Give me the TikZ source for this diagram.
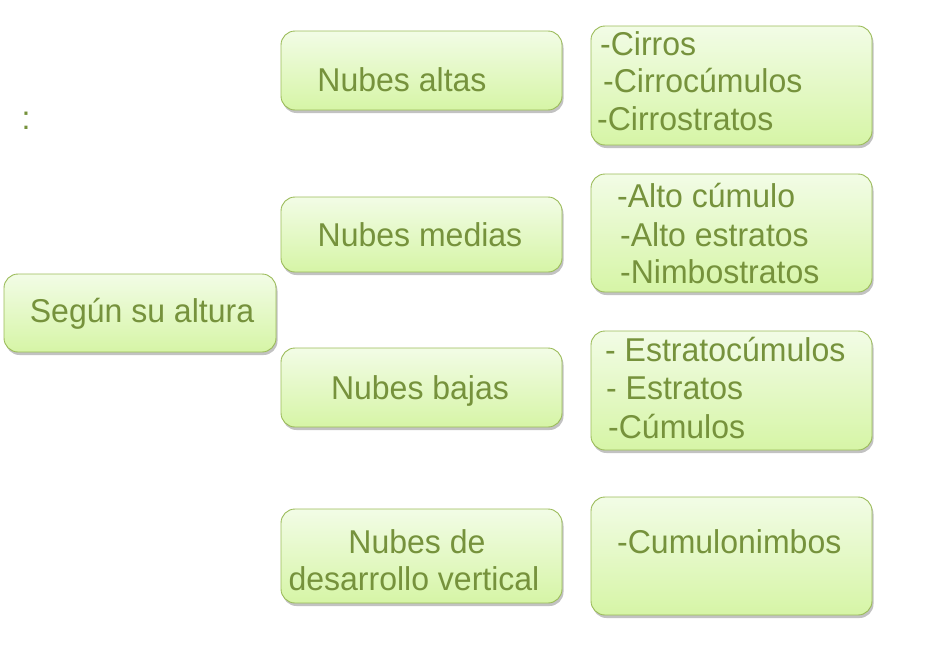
\documentclass[tikz,border=0pt]{standalone}
\usepackage{fontspec}
\setmainfont{Liberation Sans}[FakeStretch=0.97]
\usepackage{xcolor}
\usepackage{tikz}
\usetikzlibrary{shadows}
\usetikzlibrary{positioning}
\definecolor{olivetext}{HTML}{76923C}
\definecolor{boxline}{HTML}{9BBB59}
\definecolor{boxtop}{HTML}{F2FCE6}
\definecolor{boxbottom}{HTML}{D6F5A6}
\tikzstyle{nubebox}=[rectangle,rounded corners=14pt,draw=boxline,line width=0.9pt,top color=boxtop,bottom color=boxbottom,drop shadow={shadow xshift=1.5pt,shadow yshift=-3pt,opacity=0.4,fill=black!60},inner sep=0pt]
\tikzstyle{txt}=[inner sep=0pt,text=olivetext,font=\fontsize{33}{37}\selectfont]
\tikzstyle{listtxt}=[txt,anchor=base west]
\tikzstyle{midtxt}=[txt,anchor=base]

\begin{document}
\begin{tikzpicture}[x=1pt,y=-1pt]
    \useasboundingbox (0,0) rectangle (930,656);
    % First we draw the boxes
    \foreach \pos/\name/\w/\h in {{(140,313)/segun/272/78},
    {(421.5,70.5)/altas/281/79}, {(421.5,234.5)/medias/281/75},
    {(421.5,387.5)/bajas/281/79}, {(421.5,556)/vertical/281/94},
    {(731.5,85.5)/cirros/281/119}, {(731.5,233)/alto/281/118},
    {(731.5,390.5)/estratos/281/119}, {(731.5,556)/cumulo/281/118}}
        \node[nubebox,minimum width=\w pt,minimum height=\h pt] (\name) at \pos {};

    % Then the centred labels
    \foreach \pos/\name/\label in {{(142,322)/lsegun/Según su altura},
    {(402,91.5)/laltas/Nubes altas}, {(420,246)/lmedias/Nubes medias},
    {(420,399)/lbajas/Nubes bajas}, {(417,553)/lvertA/Nubes de},
    {(414,590)/lvertB/desarrollo vertical}}
        \node[midtxt] (\name) at \pos {\label};

    % Lists of cloud types
    \foreach \pos/\name/\label in {{(600,55)/c1/-Cirros},
    {(603,92)/c2/-Cirrocúmulos}, {(597,130)/c3/-Cirrostratos},
    {(617,207)/a1/-Alto cúmulo}, {(620,246)/a2/-Alto estratos},
    {(620,283)/a3/-Nimbostratos}, {(605,361)/e1/- Estratocúmulos},
    {(606,399)/e2/- Estratos}, {(608,438)/e3/-Cúmulos},
    {(617,553)/v1/-Cumulonimbos}}
        \node[listtxt] (\name) at \pos {\label};

    \node[midtxt] (colon) at (26,129) {:};
\end{tikzpicture}
\end{document}
